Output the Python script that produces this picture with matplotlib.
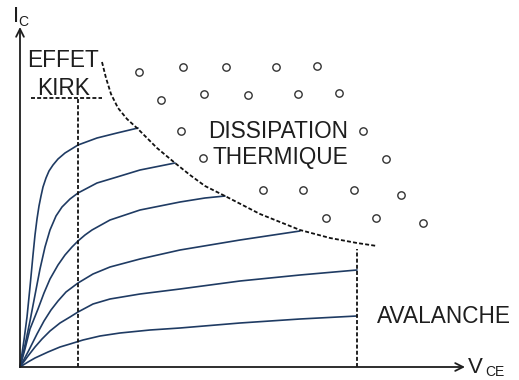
import numpy as np
import matplotlib
matplotlib.use("Agg")
import matplotlib.pyplot as plt

# =====================================
# Data (V_CE, I_C)
# =====================================

curve_1_v = [0, 4, 7, 10, 13, 15, 17, 19, 21, 23, 26, 29, 33, 38, 45, 58, 77, 97, 118]
curve_1_i = [0, 27, 50, 80, 112, 132, 148, 161, 171, 180, 189, 196, 202, 208, 214, 222, 229, 234, 239]

curve_2_v = [0, 5, 10, 15, 20, 25, 30, 36, 42, 50, 58, 77, 97, 120, 140, 155]
curve_2_i = [0, 22, 46, 72, 98, 120, 137, 151, 160, 168, 174, 184, 190, 197, 201, 204]

curve_3_v = [0, 5, 10, 18, 24, 30, 38, 45, 52, 58, 65, 72, 90, 120, 160, 185, 205]
curve_3_i = [0, 18, 38, 58, 74, 88, 102, 112, 120, 126, 132, 137, 147, 157, 165, 169, 171]

curve_4_v = [0, 9, 17, 24, 31, 38, 46, 58, 73, 90, 120, 160, 220, 280]
curve_4_i = [0, 17, 33, 46, 57, 66, 75, 84, 93, 100, 108, 117, 127, 136]

curve_5_v = [0, 8, 15, 22, 30, 40, 50, 58, 73, 90, 120, 160, 220, 280, 337]
curve_5_i = [0, 11, 20, 28, 36, 44, 50, 55, 63, 68, 73, 78, 86, 92, 97]

curve_6_v = [0, 8, 15, 28, 40, 50, 63, 80, 100, 130, 160, 220, 280, 337]
curve_6_i = [0, 5, 9, 15, 20, 23, 27, 31, 34, 37, 39, 44, 48, 51]

curves = [
    (curve_1_v, curve_1_i),
    (curve_2_v, curve_2_i),
    (curve_3_v, curve_3_i),
    (curve_4_v, curve_4_i),
    (curve_5_v, curve_5_i),
    (curve_6_v, curve_6_i),
]

# power limit (dissipation thermique)
limit_v = [82, 86, 91, 98, 107, 118, 137, 155, 170, 185, 205, 240, 280, 310, 337, 357]
limit_i = [305, 289, 273, 259, 248, 238, 219, 204, 192, 181, 171, 153, 137, 129, 124, 121]

# Kirk limit and avalanche limit
kirk_v = 58
kirk_i = 269
kirk_bar_v = [11, 82]
avalanche_v = 337
avalanche_i = 118

# dots of the forbidden zone
dots_v = [119, 163, 206, 256, 297,
          141, 184, 228, 278, 319,
          161, 343,
          183, 366,
          243, 283, 334, 381,
          306, 356, 403]
dots_i = [295, 300, 300, 300, 301,
          267, 273, 272, 273, 274,
          236, 236,
          209, 208,
          177, 177, 177, 172,
          149, 149, 144]

# =====================================
# Plot
# =====================================

plt.rcParams["font.family"] = ["Liberation Sans", "DejaVu Sans"]

fig = plt.figure(figsize=(5.19, 3.80), dpi=100)
ax = fig.add_axes([0, 0, 1, 1])
ax.set_xlim(-20, 499)
ax.set_ylim(-13, 367)
ax.axis("off")

text_color = "#1e1e1e"
line_color = "#1f3b63"
dash = (0, (2.2, 1.2))

for v, i in curves:
    ax.plot(v, i, color=line_color, lw=1.2,
            solid_joinstyle="round", solid_capstyle="round")

ax.plot(limit_v, limit_i, color="#111111", lw=1.3, linestyle=dash)

ax.plot([kirk_v, kirk_v], [0, kirk_i], color="#111111", lw=1.3,
        linestyle=dash)
ax.plot(kirk_bar_v, [kirk_i, kirk_i], color="#111111", lw=1.3,
        linestyle=dash)
ax.plot([avalanche_v, avalanche_v], [0, avalanche_i], color="#111111",
        lw=1.3, linestyle=dash)

ax.plot(dots_v, dots_i, linestyle="none", marker="o", markersize=5.3,
        markerfacecolor="white", markeredgecolor="#333333",
        markeredgewidth=1.0)

# axes with arrows
arrow = dict(arrowstyle="->", color=text_color, lw=1.3,
             shrinkA=0, shrinkB=0, mutation_scale=14)
ax.annotate("", xy=(445, 0), xytext=(0, 0), arrowprops=arrow)
ax.annotate("", xy=(0, 340), xytext=(0, 0), arrowprops=arrow)

# labels
ax.text(-7, 345, "I", fontsize=16, color=text_color, ha="left", va="baseline")
ax.text(-2, 341, "C", fontsize=10, color=text_color, ha="left", va="baseline")
ax.text(448, -6, "V", fontsize=16, color=text_color, ha="left", va="baseline")
ax.text(465, -9, "CE", fontsize=10, color=text_color, ha="left", va="baseline")

ax.text(7, 300, "EFFET", fontsize=16.3, color=text_color, ha="left", va="baseline")
ax.text(17, 272, "KIRK", fontsize=16.3, color=text_color, ha="left", va="baseline")
ax.text(258, 229, "DISSIPATION", fontsize=16.3, color=text_color,
        ha="center", va="baseline")
ax.text(260, 203, "THERMIQUE", fontsize=16.3, color=text_color,
        ha="center", va="baseline")
ax.text(357, 44, "AVALANCHE", fontsize=16.3, color=text_color,
        ha="left", va="baseline")

fig.savefig("out.png", dpi=100)
